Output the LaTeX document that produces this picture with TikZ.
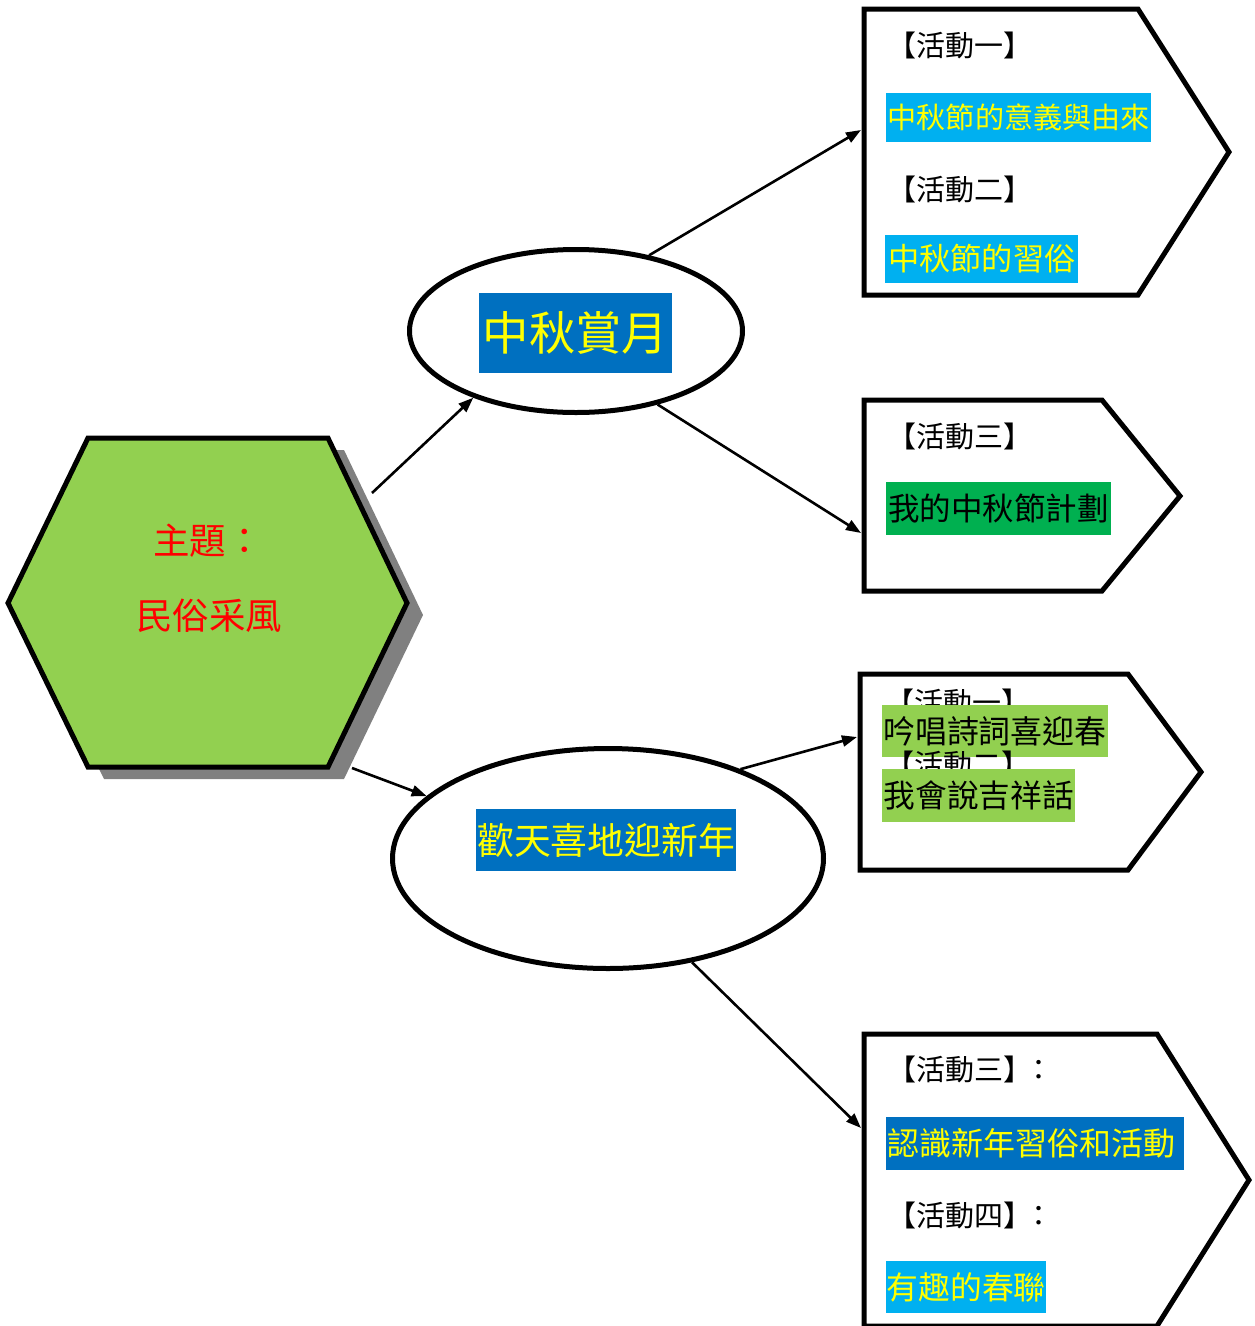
\documentclass[tikz,border=0pt]{standalone}
\usepackage{fontspec}
\newfontfamily\cjk{Noto Sans CJK TC}
\usetikzlibrary{shapes.geometric,arrows.meta}
\definecolor{dblue}{HTML}{0070C0}
\definecolor{lblue}{HTML}{00B0F0}
\definecolor{lgreen}{HTML}{92D050}
\definecolor{dgreen}{HTML}{00B050}
\definecolor{ylw}{HTML}{FFFF00}
\definecolor{shadowgray}{HTML}{808080}
\newcommand{\fs}[1]{\cjk\fontsize{#1}{#1}\selectfont}
\begin{document}
\begin{tikzpicture}[x=1pt,y=-1pt,
  outline/.style={line width=5pt, line join=miter},
  oval/.style={ellipse, draw, line width=5pt, inner sep=0pt},
  arr/.style={-{Triangle[length=15pt,width=11pt]}, line width=2.6pt},
  hl/.style={anchor=west, inner ysep=0pt},
  brk/.style={anchor=west, inner sep=0pt, font=\fs{29}},
  lab/.style={inner ysep=0pt}]
\useasboundingbox (0,0) rectangle (1254,1326);
\fill[white] (0,0) rectangle (1254,1326);

% hexagon with shadow
\fill[shadowgray, shift={(16,12)}] (88,438) -- (328,438) -- (407,603) -- (328,767) -- (88,767) -- (8,603) -- cycle;
\draw[outline, fill=lgreen] (88,438) -- (328,438) -- (407,603) -- (328,767) -- (88,767) -- (8,603) -- cycle;
\node[anchor=west, inner sep=0pt, text=red, font=\fs{36.5}] (h1) at (153,541) {主題：};
\node[anchor=west, inner sep=0pt, text=red, font=\fs{36.5}] (h2) at (136,616) {民俗采風};
\coordinate (hexA) at (372,493);
\coordinate (hexB) at (352,768);

% ellipses
\node[oval, minimum width=333pt, minimum height=163pt] (e1) at (576,331) {};
\node[lab, fill=dblue, text=ylw, inner xsep=3.7pt, minimum height=80pt, font=\fs{46.4}, text height=40.8pt, text depth=5.6pt] (l1) at (575.5,333) {中秋賞月};
\node[oval, minimum width=431pt, minimum height=220pt] (e2) at (608,858.5) {};
\node[lab, fill=dblue, text=ylw, inner xsep=1.5pt, minimum height=62pt, font=\fs{36.8}, text height=32.4pt, text depth=4.4pt] (l2) at (606,840) {歡天喜地迎新年};

% pentagon 1
\draw[outline] (864,9) -- (1138,9) -- (1229,152) -- (1138,295) -- (864,295) -- cycle;
\coordinate (p1) at (861,130);
\node[brk] (b1) at (887,45) {【活動一】};
\node[hl, fill=lblue, text=ylw, inner xsep=1.5pt, minimum height=49pt, font=\fs{29.1}, text height=25.6pt, text depth=3.5pt] (t1) at (886,117.5) {中秋節的意義與由來};
\node[brk] (b2) at (887,189) {【活動二】};
\node[hl, fill=lblue, text=ylw, inner xsep=3pt, minimum height=48pt, font=\fs{31.2}, text height=27.5pt, text depth=3.7pt] (t2) at (885,259) {中秋節的習俗};

% pentagon 2
\draw[outline] (864,400) -- (1102,400) -- (1180,496) -- (1102,591) -- (864,591) -- cycle;
\coordinate (p2) at (861,533);
\node[brk] (b3) at (887,436) {【活動三】};
\node[hl, fill=dgreen, text=black, inner xsep=2pt, minimum height=53pt, font=\fs{31.5}, text height=27.7pt, text depth=3.8pt] (t3) at (886,508.5) {我的中秋節計劃};

% pentagon 3
\draw[outline] (860,674) -- (1128,674) -- (1201,772) -- (1128,870) -- (860,870) -- cycle;
\coordinate (p3) at (857,737);
\node[brk] (b4) at (885,702) {【活動一】};
\node[hl, fill=lgreen, text=black, inner xsep=1pt, minimum height=52pt, font=\fs{31.9}, text height=28.1pt, text depth=3.8pt] (t4) at (882,731) {吟唱詩詞喜迎春};
\node[brk] (b5) at (885,764) {【活動二】};
\node[hl, fill=lgreen, text=black, inner xsep=1.5pt, minimum height=53pt, font=\fs{31.7}, text height=27.9pt, text depth=3.8pt] (t5) at (882,795.5) {我會說吉祥話};

% pentagon 4
\draw[outline] (864,1034) -- (1157,1034) -- (1249,1180) -- (1157,1326) -- (864,1326) -- cycle;
\coordinate (p4) at (861,1128);
\node[brk] (b6) at (887,1069) {【活動三】\hspace{-8pt}：};
\node[hl, fill=dblue, text=ylw, inner xsep=1pt, minimum height=53pt, font=\fs{32}, text height=28.2pt, text depth=3.8pt] (t6) at (886,1143.5) {認識新年習俗和活動\kern8pt\null};
\node[brk] (b7) at (887,1215) {【活動四】\hspace{-8pt}：};
\node[hl, fill=lblue, text=ylw, inner xsep=0.5pt, minimum height=52pt, font=\fs{31.8}, text height=28pt, text depth=3.8pt] (t7) at (886,1287) {有趣的春聯};

% connectors
\draw[arr] (hexA) -- (e1.213.6);
\draw[arr] (e1.46) -- (p1);
\draw[arr] (e1.318) -- (p2);
\draw[arr] (hexB) -- (e2.161);
\draw[arr] (e2.34.4) -- (p3);
\draw[arr] (e2.309.3) -- (p4);
\end{tikzpicture}
\end{document}
